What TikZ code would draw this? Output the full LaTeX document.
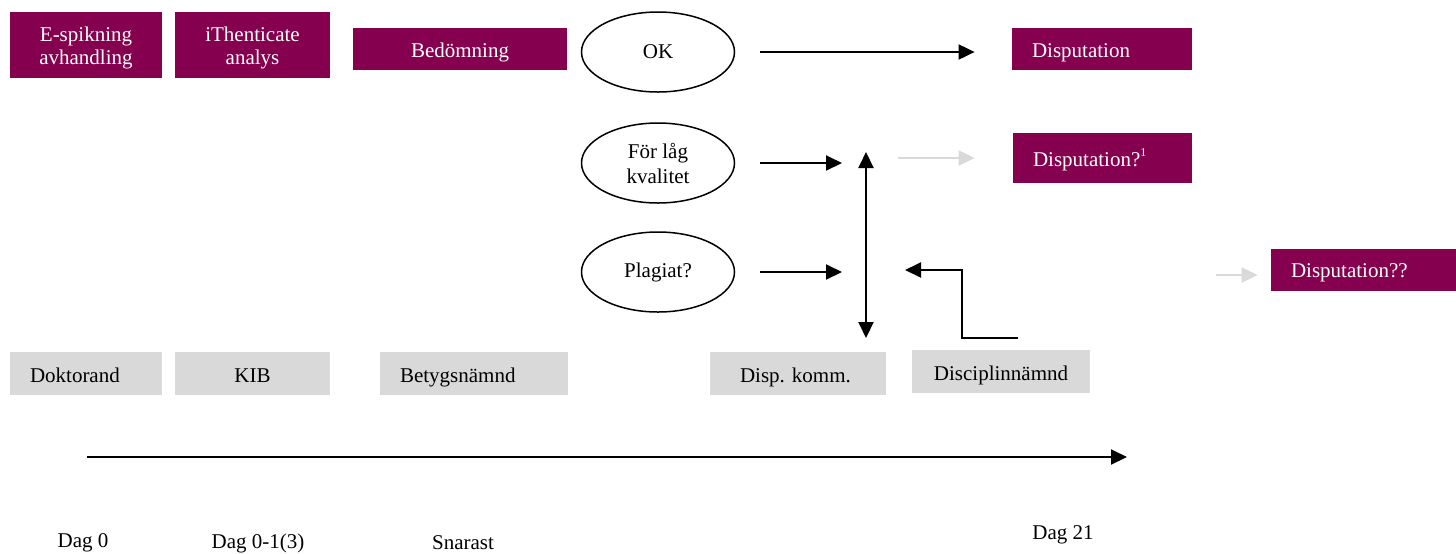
\documentclass[tikz,border=0pt]{standalone}
\usepackage{fontspec}
\setmainfont{Liberation Serif}
\usetikzlibrary{arrows.meta,shapes.geometric,positioning}
\definecolor{lila}{HTML}{860050}
\definecolor{ljusgra}{HTML}{D9D9D9}

\begin{document}
\begin{tikzpicture}[x=0.5pt,y=-0.5pt,
	every node/.style={font=\fontsize{10.5}{11.5}\selectfont},
	lila/.style={fill=lila,text=white,inner sep=0pt,minimum height=21pt,align=center},
	rad/.style={text height=8pt,text depth=0pt},
	gra/.style={fill=ljusgra,inner sep=0pt,minimum height=21.5pt,align=center,text height=9pt,text depth=0pt},
	bubbla/.style={draw,ellipse,line width=0.75pt,inner sep=0pt,minimum width=76.5pt,minimum height=40pt,align=center},
	spets/.style={-{Triangle[length=8pt,width=7.5pt]}},
	pil/.style={line width=1pt,spets},
	gpil/.style={line width=1pt,draw=ljusgra,-{Triangle[length=8pt,width=7.5pt,color=ljusgra]}},
	tid/.style={inner sep=0pt}]
	\useasboundingbox (0,0) rectangle (1456,553);
	% steg
	\node[lila,minimum width=76pt,minimum height=33pt] (esp) at (86,45) {\rule{0pt}{10.2pt}E-spikning\\avhandling};
	\node[lila,minimum width=77.5pt,minimum height=33pt] (ith) at (252.5,45) {\rule{0pt}{10.2pt}iThenticate\\analys};
	\node[lila,rad,minimum width=107pt] (bed) at (460,49) {Bed\"omning};
	\node[lila,rad,inner xsep=10pt,text width=70pt,align=left] (disp) at (1102,49) {Disputation};
	\node[lila,rad,inner xsep=10pt,text width=69.5pt,align=left,minimum height=25pt] (disp2) at (1102.5,158) {Disputation?\raisebox{5pt}{\fontsize{6}{6}\selectfont 1}};
	\node[lila,rad,inner xsep=10pt,text width=72.5pt,align=left] (dispq) at (1363.5,269.5) {Disputation??};
	% utfall
	\node[bubbla] (ok) at (658,52) {OK};
	\node[bubbla,font=\fontsize{10.5}{12.5}\selectfont] (lag) at (658,163) {F\"or l\aa g\\kvalitet};
	\node[bubbla] (plag) at (658,272) {Plagiat?};
	% roller
	\node[gra,inner xsep=10pt,text width=56pt,align=left] (dokt) at (86,373.5) {Doktorand};
	\node[gra,minimum width=77.5pt] (kib) at (252.5,373.5) {KIB};
	\node[gra,inner xsep=10pt,text width=74pt,align=left] (bet) at (474,373.5) {Betygsn\"amnd};
	\node[gra,inner xsep=15pt,text width=58pt,align=left] (dk) at (798,373.5) {Disp.\ komm.};
	\node[gra,minimum width=89pt] (dn) at (1001,371.5) {Disciplinn\"amnd};
	% tider
	\node[tid] (d0) at (83,543) {Dag 0};
	\node[tid] (d1) at (258,543) {Dag 0-1(3)};
	\node[tid] (sn) at (463,543) {Snarast};
	\node[tid] (d21) at (1063,535) {Dag 21};
	% punkter
	\coordinate (in1) at (842,163);
	\coordinate (in2) at (842,272);
	\coordinate (upp) at (866,152);
	\coordinate (ned) at (866,338);
	\coordinate (g1) at (898,158);
	\coordinate (g2) at (1216,275);
	\coordinate (b0) at (1018,338);
	\coordinate (b1) at (905,270);
	\coordinate (t0) at (87,457);
	\coordinate (t1) at (1127,457);
	% pilar
	\draw[pil,shorten <=12.5pt,shorten >=18.5pt] (ok.east) -- (ok.east -| disp.west);
	\draw[pil,shorten <=12.5pt] (lag.east) -- (in1);
	\draw[pil,shorten <=12.5pt] (plag.east) -- (in2);
	\draw[line width=1pt,{Triangle[length=8pt,width=7.5pt]}-{Triangle[length=8pt,width=7.5pt]}] (upp) -- (ned);
	\draw[gpil,shorten >=19pt] (g1) -- (g1 -| disp2.west);
	\draw[gpil,shorten >=6.5pt] (g2) -- (g2 -| dispq.west);
	\draw[pil] (b0) -| (962,270) -- (b1);
	\draw[pil] (t0) -- (t1);
\end{tikzpicture}
\end{document}
